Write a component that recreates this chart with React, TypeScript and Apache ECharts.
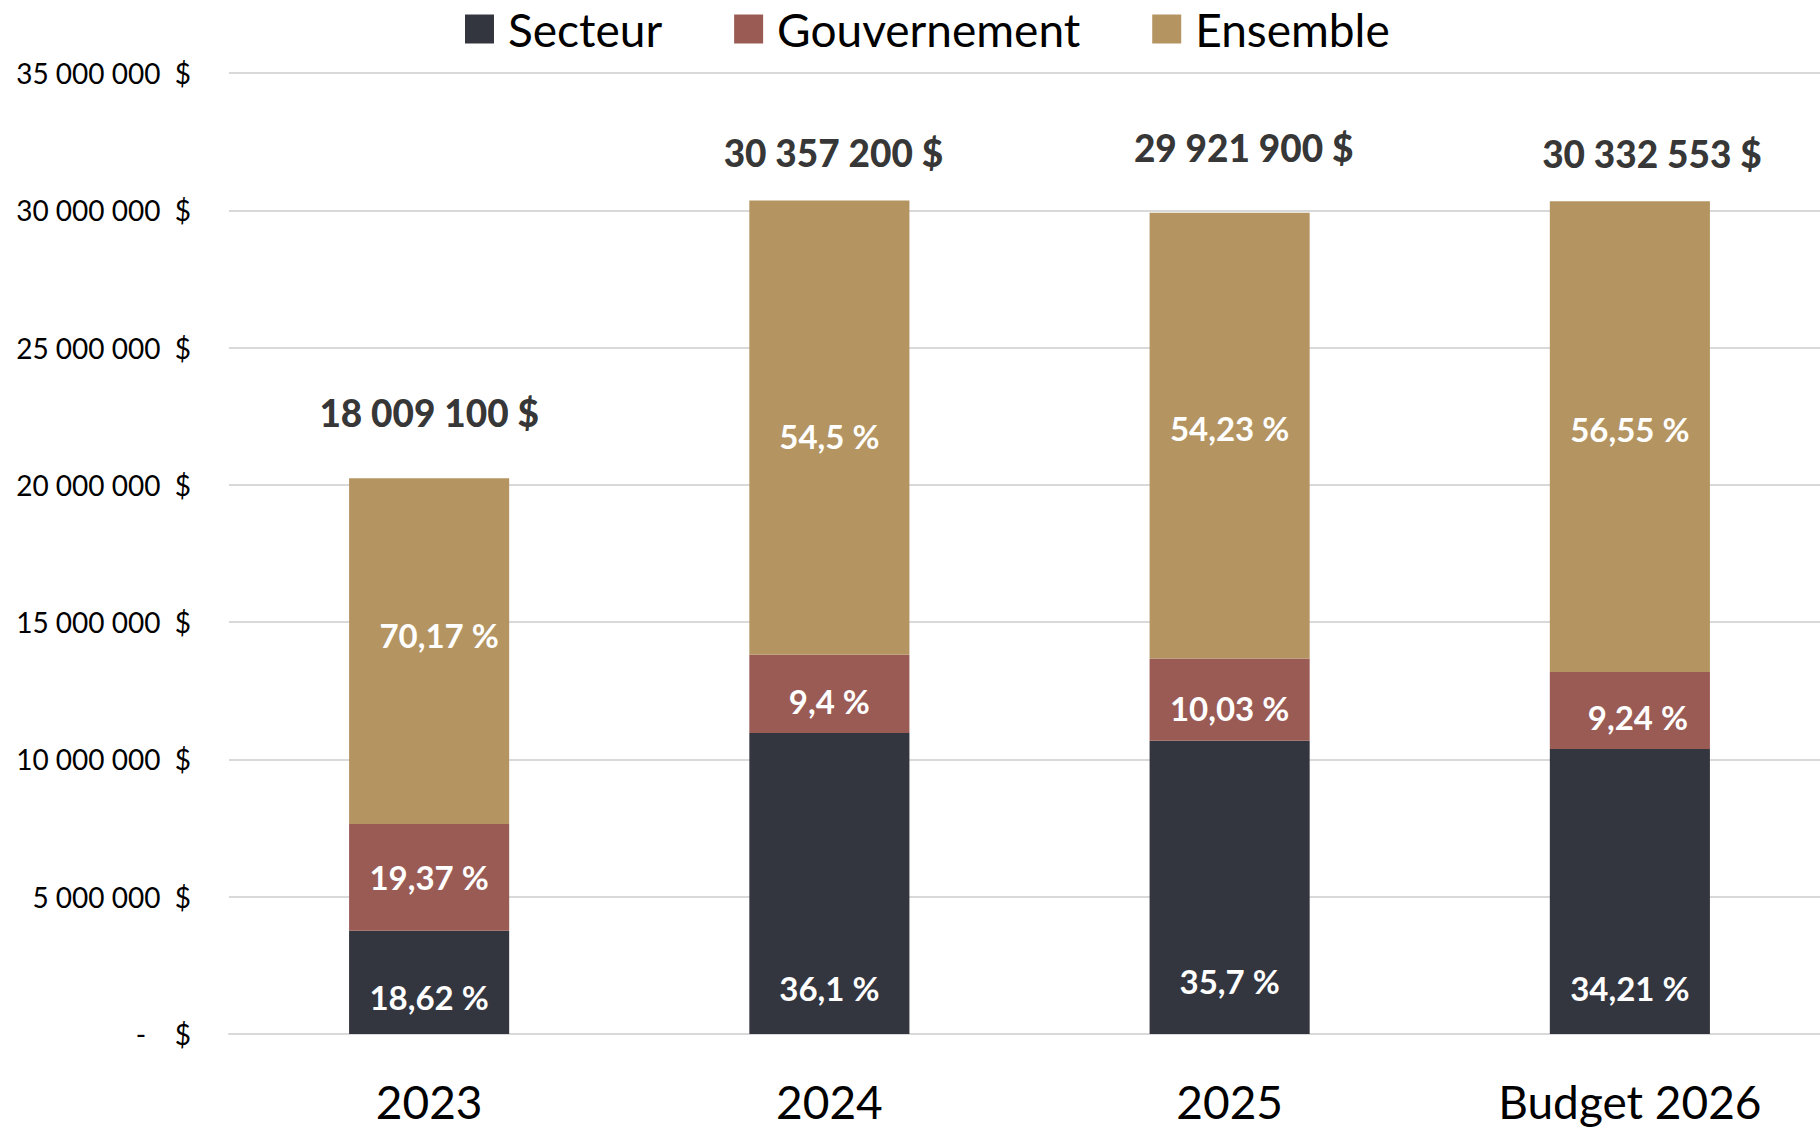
import React, { useEffect, useRef } from "react";
import * as echarts from "echarts";

const categories = ["2023", "2024", "2025", "Budget 2026"];
const seriesNames = ["Secteur", "Gouvernement", "Ensemble"];
const secteurValues = [3760000, 10960000, 10680000, 10380000];
const gouvernementValues = [3890000, 2850000, 3000000, 2800000];
const ensembleValues = [12590000, 16550000, 16230000, 17150000];
const secteurLabels = ["18,62 %", "36,1 %", "35,7 %", "34,21 %"];
const gouvernementLabels = ["19,37 %", "9,4 %", "10,03 %", "9,24 %"];
const ensembleLabels = ["70,17 %", "54,5 %", "54,23 %", "56,55 %"];
const totalLabels = ["18 009 100 $", "30 357 200 $", "29 921 900 $", "30 332 553 $"];
const yMin = 0;
const yMax = 35000000;
const yInterval = 5000000;

// layout-only tweaks for label placement (pixels)
const totalLabelOffsets = [
  [0, -18],
  [4, 0],
  [14, -18],
  [22, 0],
];
const secteurLabelOffsets = [
  [0, 7],
  [0, -2],
  [0, -9],
  [0, -2],
];
const gouvernementLabelOffsets = [
  [0, 0],
  [0, 7],
  [0, 8],
  [8, 6],
];
const ensembleLabelOffsets = [
  [10, -16],
  [0, 8],
  [0, -8],
  [0, -8],
];

const COLORS = ["#33363f", "#9b5b55", "#b49562"];
const FONT = "Lato";

function fmtAxis(v: number): string {
  if (v === 0) return "-    $";
  const s = String(Math.round(v)).replace(/\B(?=(\d{3})+(?!\d))/g, " ");
  return s + "  $";
}

export default function App() {
  const ref = useRef<HTMLDivElement>(null);
  useEffect(() => {
    if (!ref.current) return;
    const chart = echarts.init(ref.current, undefined, { renderer: "svg" });
    const pctLabel = (labels: string[], extra: any = {}) => ({
      show: true,
      color: "#ffffff",
      fontFamily: FONT,
      fontWeight: "bold",
      fontSize: 33,
      formatter: (p: any) => labels[p.dataIndex],
      ...extra,
    });
    const withOffsets = (vals: number[], offs: number[][]) =>
      vals.map((v, i) => ({ value: v, label: { offset: offs[i] } }));
    const totals = categories.map(
      (_, i) => secteurValues[i] + gouvernementValues[i] + ensembleValues[i]
    );
    chart.setOption({
      animation: false,
      backgroundColor: "#ffffff",
      legend: {
        data: seriesNames,
        left: 460,
        top: 1,
        itemWidth: 29,
        itemHeight: 29,
        itemGap: 72,
        icon: "rect",
        textStyle: {
          fontFamily: FONT,
          fontSize: 46,
          color: "#000000",
          padding: [0, 0, 0, 9],
        },
      },
      grid: { left: 229, right: 10, top: 73, bottom: 95, containLabel: false },
      xAxis: {
        type: "category",
        data: categories,
        axisTick: { show: false },
        axisLine: { show: true, lineStyle: { color: "#d9d9d9", width: 2 } },
        axisLabel: {
          color: "#000000",
          fontFamily: FONT,
          fontSize: 46,
          margin: 44,
        },
      },
      yAxis: {
        type: "value",
        min: yMin,
        max: yMax,
        interval: yInterval,
        axisLine: { show: false },
        axisTick: { show: false },
        splitLine: { lineStyle: { color: "#d9d9d9", width: 2 } },
        axisLabel: {
          color: "#000000",
          fontFamily: FONT,
          fontSize: 28,
          margin: 38,
          formatter: fmtAxis,
        },
      },
      series: [
        {
          name: seriesNames[0],
          type: "bar",
          stack: "total",
          barWidth: "40%",
          itemStyle: { color: COLORS[0] },
          data: withOffsets(secteurValues, secteurLabelOffsets),
          label: pctLabel(secteurLabels, { position: "insideBottom", distance: 28 }),
        },
        {
          name: seriesNames[1],
          type: "bar",
          stack: "total",
          barWidth: "40%",
          itemStyle: { color: COLORS[1] },
          data: withOffsets(gouvernementValues, gouvernementLabelOffsets),
          label: pctLabel(gouvernementLabels, { position: "inside" }),
        },
        {
          name: seriesNames[2],
          type: "bar",
          stack: "total",
          barWidth: "40%",
          itemStyle: { color: COLORS[2] },
          data: withOffsets(ensembleValues, ensembleLabelOffsets),
          label: pctLabel(ensembleLabels, { position: "inside" }),
        },
        {
          name: "Total",
          type: "scatter",
          symbolSize: 0,
          silent: true,
          data: totals.map((v, i) => ({
            value: v,
            label: { offset: totalLabelOffsets[i] },
          })),
          label: {
            show: true,
            position: "top",
            distance: 29,
            color: "#000000",
            fontFamily: FONT,
            fontWeight: 900,
            fontSize: 37,
            formatter: (p: any) => totalLabels[p.dataIndex],
          },
        },
      ],
    });
    return () => chart.dispose();
  }, []);
  return (
    <div
      style={{
        position: "absolute",
        left: 0,
        top: 0,
        width: 1820,
        height: 1129,
        overflow: "hidden",
      }}
    >
      <div ref={ref} style={{ width: 1840, height: 1129 }} />
    </div>
  );
}
